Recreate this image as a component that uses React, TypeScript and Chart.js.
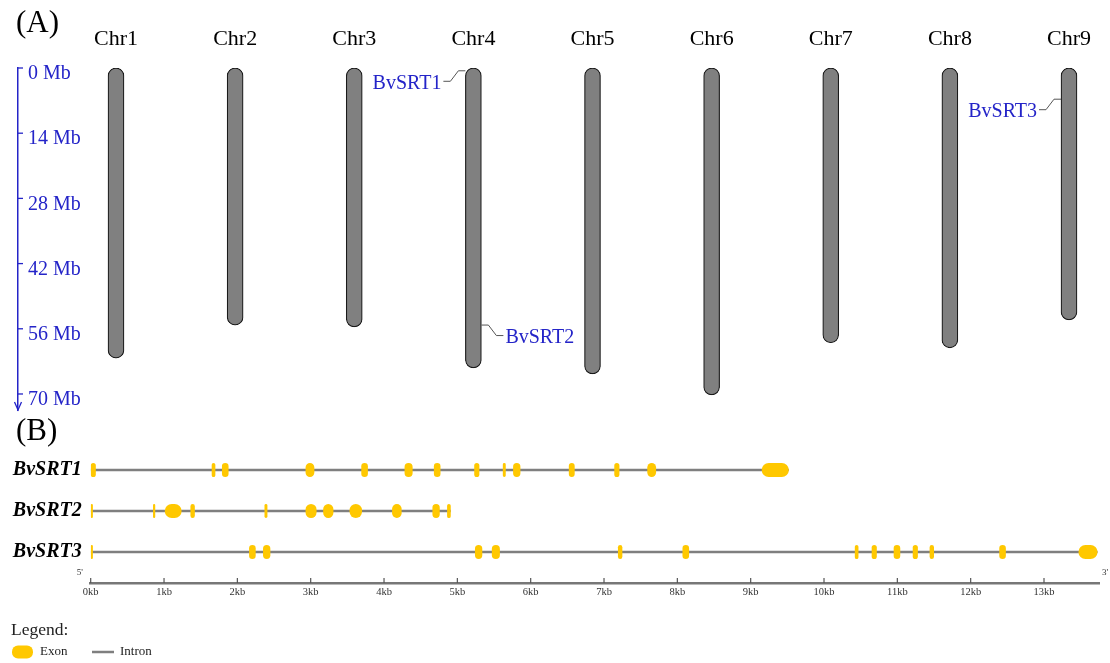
import React, { useEffect, useRef } from "react";
import { Chart, registerables } from "chart.js";

Chart.register(...registerables);

// ---------- Panel A data ----------
const CHR_NAMES = ["Chr1", "Chr2", "Chr3", "Chr4", "Chr5", "Chr6", "Chr7", "Chr8", "Chr9"];
const CHR_LENGTHS_MB = [62.3, 55.2, 55.6, 64.4, 65.7, 70.2, 59.0, 60.1, 54.1];
const MB_TICKS = [0, 14, 28, 42, 56, 70];
const GENE_NAMES = ["BvSRT1", "BvSRT2", "BvSRT3"];
const GENE_CHR = [4, 4, 9];
const GENE_POS_MB = [0.6, 55.2, 6.7];
const GENE_LABEL_SIDE = ["left", "right", "left"];

// ---------- Panel B data (kb) ----------
const BVSRT1_EXONS = [
  [0, 0.07], [1.65, 1.7], [1.79, 1.88], [2.93, 3.05], [3.69, 3.78], [4.28, 4.39], [4.68, 4.77],
  [5.23, 5.3], [5.62, 5.66], [5.76, 5.86], [6.52, 6.6], [7.14, 7.21], [7.59, 7.71], [9.15, 9.52],
];
const BVSRT2_EXONS = [
  [0, 0.03], [0.85, 0.88], [1.01, 1.24], [1.36, 1.42], [2.37, 2.41], [2.93, 3.08], [3.17, 3.31],
  [3.53, 3.7], [4.11, 4.24], [4.66, 4.76], [4.86, 4.91],
];
const BVSRT3_EXONS = [
  [0, 0.03], [2.16, 2.25], [2.35, 2.45], [5.24, 5.34], [5.47, 5.58], [7.19, 7.25], [8.07, 8.16],
  [10.42, 10.47], [10.65, 10.72], [10.95, 11.04], [11.21, 11.28], [11.44, 11.5], [12.39, 12.48], [13.47, 13.73],
];
const GENE_EXONS = [BVSRT1_EXONS, BVSRT2_EXONS, BVSRT3_EXONS];
const GENE_LENGTH_KB = [9.52, 4.91, 13.73];
const KB_TICKS = [0, 1, 2, 3, 4, 5, 6, 7, 8, 9, 10, 11, 12, 13];

// ---------- styles ----------
const SERIF = '"Liberation Serif", "Times New Roman", serif';
const BLUE = "#2424c8";
const CHR_FILL = "#808080";
const GOLD = "#FFC800";
const INTRON = "#7f7f7f";

const panelAPlugin = {
  id: "panelA",
  afterDraw(chart: any) {
    const { ctx, chartArea } = chart;
    const xs = chart.scales.x;
    const ys = chart.scales.y;
    ctx.save();
    ctx.fillStyle = "#000";
    ctx.font = `31px ${SERIF}`;
    ctx.textAlign = "left";
    ctx.textBaseline = "middle";
    ctx.fillText("(A)", 16, 24);

    // axis tick stubs and arrow
    const ax = chartArea.left;
    ctx.strokeStyle = BLUE;
    ctx.lineWidth = 1.3;
    for (const v of MB_TICKS) {
      const py = ys.getPixelForValue(v);
      ctx.beginPath();
      ctx.moveTo(ax, py);
      ctx.lineTo(ax + 5, py);
      ctx.stroke();
    }
    ctx.beginPath();
    ctx.moveTo(ax - 3.5, chartArea.bottom - 8);
    ctx.lineTo(ax, chartArea.bottom);
    ctx.lineTo(ax + 3.5, chartArea.bottom - 8);
    ctx.stroke();

    // gene labels
    const meta = chart.getDatasetMeta(0);
    ctx.font = `20px ${SERIF}`;
    ctx.fillStyle = BLUE;
    ctx.strokeStyle = "#555";
    ctx.lineWidth = 1;
    GENE_NAMES.forEach((name, g) => {
      const idx = GENE_CHR[g] - 1;
      const el = meta.data[idx];
      const half = (el && el.width ? el.width : 16) / 2;
      const cx = xs.getPixelForValue(GENE_CHR[g]);
      const py = ys.getPixelForValue(GENE_POS_MB[g]);
      const dir = GENE_LABEL_SIDE[g] === "left" ? -1 : 1;
      const e = cx + dir * half;
      ctx.beginPath();
      ctx.moveTo(e, py);
      ctx.lineTo(e + dir * 7, py);
      ctx.lineTo(e + dir * 15, py + 10.5);
      ctx.lineTo(e + dir * 22, py + 10.5);
      ctx.stroke();
      ctx.textAlign = dir < 0 ? "right" : "left";
      ctx.textBaseline = "middle";
      ctx.fillText(name, e + dir * 24, py + 12.5);
    });
    ctx.restore();
  },
};

const panelBPlugin = {
  id: "panelB",
  afterDraw(chart: any) {
    const { ctx, chartArea } = chart;
    const xs = chart.scales.x;
    ctx.save();
    ctx.fillStyle = "#000";
    ctx.font = `31px ${SERIF}`;
    ctx.textAlign = "left";
    ctx.textBaseline = "middle";
    ctx.fillText("(B)", 16, 18);

    // tick stubs above axis
    ctx.strokeStyle = "#555";
    ctx.lineWidth = 1.2;
    for (const v of KB_TICKS) {
      const px = xs.getPixelForValue(v);
      ctx.beginPath();
      ctx.moveTo(px, chartArea.bottom - 5);
      ctx.lineTo(px, chartArea.bottom);
      ctx.stroke();
    }
    // 5' / 3'
    ctx.fillStyle = "#333";
    ctx.font = `9px ${SERIF}`;
    ctx.textAlign = "center";
    ctx.fillText("5'", chartArea.left - 11, chartArea.bottom - 10);
    ctx.fillText("3'", chartArea.right + 6, chartArea.bottom - 10);

    // legend
    const ly = chart.height - 33;
    ctx.fillStyle = "#222";
    ctx.textAlign = "left";
    ctx.font = `17.5px ${SERIF}`;
    ctx.fillText("Legend:", 11, ly);
    const sy = chart.height - 11;
    ctx.fillStyle = GOLD;
    ctx.beginPath();
    (ctx as any).roundRect(12, sy - 6.5, 21, 13, 6);
    ctx.fill();
    ctx.fillStyle = "#222";
    ctx.font = `13px ${SERIF}`;
    ctx.fillText("Exon", 40, sy);
    ctx.strokeStyle = INTRON;
    ctx.lineWidth = 2.5;
    ctx.beginPath();
    ctx.moveTo(92, sy);
    ctx.lineTo(114, sy);
    ctx.stroke();
    ctx.fillText("Intron", 120, sy);
    ctx.restore();
  },
};

export default function App() {
  const aRef = useRef<HTMLCanvasElement>(null);
  const bRef = useRef<HTMLCanvasElement>(null);

  useEffect(() => {
    // layout of panel A: chart area spans x 18..1100, Chr centres 116 + 119.125*(i-1)
    const pxPerChr = 119.125;
    const areaLeft = 18;
    const areaRight = 1100;
    const firstCentre = 116;
    const xMin = 1 - (firstCentre - areaLeft) / pxPerChr;
    const xMax = 1 + (areaRight - firstCentre) / pxPerChr;

    const chartA = new Chart(aRef.current as HTMLCanvasElement, {
      type: "bar",
      data: {
        datasets: [
          {
            label: "Chromosome",
            data: CHR_LENGTHS_MB.map((len, i) => ({ x: i + 1, y: [0, len] })) as any,
            backgroundColor: CHR_FILL,
            borderColor: "#1a1a1a",
            borderWidth: 1.2,
            borderRadius: 8,
            borderSkipped: false,
            barThickness: 16,
          },
        ],
      },
      options: {
        animation: false,
        responsive: true,
        maintainAspectRatio: false,
        layout: {
          autoPadding: false,
          padding: { top: 10.6, left: areaLeft, right: 1110 - areaRight, bottom: 4 },
        },
        plugins: { legend: { display: false }, tooltip: { enabled: false } },
        scales: {
          x: {
            type: "linear",
            position: "top",
            min: xMin,
            max: xMax,
            offset: false,
            afterBuildTicks: (s: any) => {
              s.ticks = CHR_NAMES.map((_, i) => ({ value: i + 1 }));
            },
            afterFit: (s: any) => {
              s.paddingLeft = 0;
              s.paddingRight = 0;
            },
            ticks: {
              autoSkip: false,
              maxRotation: 0,
              padding: 15.5,
              color: "#000",
              font: { family: SERIF, size: 22 },
              callback: (v: any) => CHR_NAMES[Math.round(Number(v)) - 1] ?? "",
            },
            grid: { display: false, drawTicks: false },
            border: { display: false },
          },
          y: {
            type: "linear",
            reverse: true,
            min: 0,
            max: 73.44,
            afterBuildTicks: (s: any) => {
              s.ticks = MB_TICKS.map((v) => ({ value: v }));
            },
            afterFit: (s: any) => {
              s.width = 0;
              s.paddingTop = 0;
              s.paddingBottom = 0;
            },
            ticks: {
              mirror: true,
              padding: 10,
              labelOffset: 6,
              color: BLUE,
              font: { family: SERIF, size: 20 },
              callback: (v: any) => `${v} Mb`,
            },
            grid: { display: false, drawTicks: false },
            border: { display: true, color: BLUE, width: 1.5 },
          },
        },
      } as any,
      plugins: [panelAPlugin],
    });

    // panel B: gene rows at 0,1,2 with 41px spacing, first row 30px below area top
    const chartB = new Chart(bRef.current as HTMLCanvasElement, {
      type: "bar",
      data: {
        datasets: [
          {
            label: "Intron",
            data: GENE_LENGTH_KB.map((len, i) => ({ y: i, x: [0, len] })) as any,
            backgroundColor: INTRON,
            borderWidth: 0,
            borderSkipped: false,
            maxBarThickness: 2.5,
            grouped: false,
            order: 2,
          },
          {
            label: "Exon",
            data: GENE_EXONS.flatMap((list, i) => list.map(([s, e]) => ({ y: i, x: [s, e] }))) as any,
            backgroundColor: GOLD,
            borderWidth: 0,
            borderRadius: 7,
            borderSkipped: false,
            maxBarThickness: 14,
            grouped: false,
            order: 1,
          },
        ],
      },
      options: {
        animation: false,
        responsive: true,
        maintainAspectRatio: false,
        indexAxis: "y",
        layout: { padding: { top: 26, left: 0, right: 11, bottom: 61.4 } },
        plugins: { legend: { display: false }, tooltip: { enabled: false } },
        scales: {
          y: {
            type: "linear",
            reverse: true,
            min: -30 / 41,
            max: 2 + 31 / 41,
            offset: false,
            afterBuildTicks: (s: any) => {
              s.ticks = GENE_NAMES.map((_, i) => ({ value: i }));
            },
            afterFit: (s: any) => {
              s.width = 90.7;
            },
            ticks: {
              padding: 9,
              color: "#000",
              font: { family: SERIF, size: 20, style: "italic", weight: "bold" },
              callback: (v: any) => GENE_NAMES[Math.round(Number(v))] ?? "",
            },
            grid: { display: false, drawTicks: false },
            border: { display: false },
          },
          x: {
            type: "linear",
            min: 0,
            max: 13.75,
            afterBuildTicks: (s: any) => {
              s.ticks = KB_TICKS.map((v) => ({ value: v }));
            },
            ticks: {
              padding: 3,
              autoSkip: false,
              maxRotation: 0,
              color: "#333",
              font: { family: SERIF, size: 10.5 },
              callback: (v: any) => `${v}kb`,
            },
            grid: { display: false, drawTicks: false },
            border: { display: true, color: "#777", width: 2.5 },
          },
        },
      } as any,
      plugins: [panelBPlugin],
    });

    return () => {
      chartA.destroy();
      chartB.destroy();
    };
  }, []);

  return (
    <div
      style={{
        position: "absolute",
        left: 0,
        top: 0,
        width: 1110,
        height: 663,
        background: "#fff",
        overflow: "hidden",
      }}
    >
      <div style={{ position: "absolute", left: 0, top: 0, width: 1110, height: 414 }}>
        <canvas ref={aRef} />
      </div>
      <div style={{ position: "absolute", left: 0, top: 414, width: 1110, height: 249 }}>
        <canvas ref={bRef} />
      </div>
    </div>
  );
}
